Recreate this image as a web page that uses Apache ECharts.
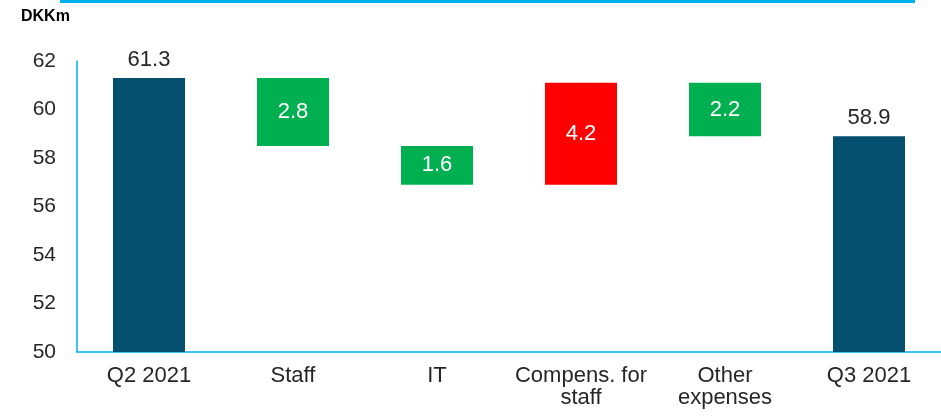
<!DOCTYPE html>
<html>
<head>
<meta charset="utf-8">
<script src="https://cdn.jsdelivr.net/npm/echarts@6/dist/echarts.min.js"></script>
<style>
html,body{margin:0;padding:0;background:#fff;}
#main{width:941px;height:417px;}
</style>
</head>
<body>
<div id="main"></div>
<script>
var categories = ['Q2 2021', 'Staff', 'IT', 'Compens. for\nstaff', 'Other\nexpenses', 'Q3 2021'];
var values = [61.3, 2.8, 1.6, 4.2, 2.2, 58.9];
var kinds = ['total', 'decrease', 'decrease', 'increase', 'decrease', 'total'];
var yTicks = [50, 52, 54, 56, 58, 60, 62];

var colorTotal = '#034f6d';
var colorGood = '#00b050';
var colorBad = '#ff0000';

// waterfall: invisible base + visible bar
var base = [], visible = [];
var running = 0;
for (var i = 0; i < values.length; i++) {
  var v = values[i];
  if (kinds[i] === 'total') {
    base.push(0);
    visible.push({ value: v, itemStyle: { color: colorTotal },
      label: { position: 'top', color: '#262626' } });
    running = v;
  } else if (kinds[i] === 'decrease') {
    running = running - v;
    base.push(running);
    visible.push({ value: v, itemStyle: { color: colorGood },
      label: { position: 'inside', color: '#ffffff' } });
  } else {
    base.push(running);
    visible.push({ value: v, itemStyle: { color: colorBad },
      label: { position: 'inside', color: '#ffffff' } });
    running = running + v;
  }
}

var chart = echarts.init(document.getElementById('main'), null, { renderer: 'canvas' });
chart.setOption({
  animation: false,
  textStyle: { fontFamily: 'Liberation Sans, Arial, sans-serif' },
  grid: { left: 77, right: 0, top: 61, bottom: 65, containLabel: false },
  graphic: [
    { type: 'rect', shape: { x: 60, y: 0, width: 855, height: 3 }, style: { fill: '#00b0f0' } },
    { type: 'text', left: 21, top: 9, style: { text: 'DKKm', font: 'bold 16px Liberation Sans, Arial, sans-serif', fill: '#000' } }
  ],
  xAxis: {
    type: 'category',
    data: categories,
    axisLine: { lineStyle: { color: '#00b0f0', width: 1.5 } },
    axisTick: { show: false },
    axisLabel: { color: '#262626', fontSize: 22, lineHeight: 22, margin: 13, interval: 0 }
  },
  yAxis: {
    type: 'value',
    min: yTicks[0],
    max: yTicks[yTicks.length - 1],
    interval: 2,
    axisLine: { show: true, lineStyle: { color: '#00b0f0', width: 1.5 } },
    axisTick: { show: false },
    splitLine: { show: false },
    axisLabel: { color: '#262626', fontSize: 21, margin: 21 }
  },
  series: [
    {
      type: 'bar', stack: 'w', data: base, barWidth: '50%',
      itemStyle: { color: 'transparent' }, silent: true, label: { show: false }
    },
    {
      type: 'bar', stack: 'w', data: visible, barWidth: '50%',
      label: { show: true, fontSize: 22, distance: 7, formatter: function (p) { return p.value.toFixed(1); } }
    }
  ]
});
</script>
</body>
</html>
